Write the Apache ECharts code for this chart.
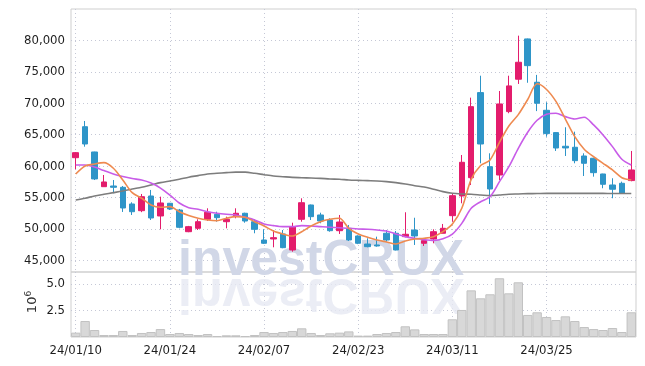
<!DOCTYPE html>
<html><head><meta charset="utf-8">
<script src="https://cdn.jsdelivr.net/npm/echarts@6/dist/echarts.min.js"></script>
<style>html,body{margin:0;padding:0;background:#fff}#c{width:645px;height:366px}</style>
</head><body><div id="c"></div>
<script>
const dates = ['24/01/10','24/01/11','24/01/12','24/01/15','24/01/16','24/01/17','24/01/18','24/01/19','24/01/22','24/01/23',
'24/01/24','24/01/25','24/01/26','24/01/29','24/01/30','24/01/31','24/02/01','24/02/02','24/02/05','24/02/06',
'24/02/07','24/02/08','24/02/13','24/02/14','24/02/15','24/02/16','24/02/19','24/02/20','24/02/21','24/02/22',
'24/02/23','24/02/26','24/02/27','24/02/28','24/02/29','24/03/04','24/03/05','24/03/06','24/03/07','24/03/08',
'24/03/11','24/03/12','24/03/13','24/03/14','24/03/15','24/03/18','24/03/19','24/03/20','24/03/21','24/03/22',
'24/03/25','24/03/26','24/03/27','24/03/28','24/03/29','24/04/01','24/04/02','24/04/03','24/04/04','24/04/05'];

const opens  = [61350,66280,62260,56740,56850,56640,53990,52920,55260,52080,
54100,53030,49580,50120,51550,52350,51170,52080,52510,51170,
48260,48420,49220,46670,51550,53830,52240,51440,49740,50120,
48900,47620,47470,49330,49330,48790,49850,47740,48420,49330,
52130,55260,58170,71700,59920,58600,68680,73830,80240,73350,
68890,65340,63170,63010,61620,61260,58760,57010,57280,57710];
const closes = [62150,63530,57970,57490,56640,53350,52760,55150,51760,54150,
53190,50280,50380,51170,52670,51810,51550,52510,51280,49960,
47740,48630,47040,50380,54190,51970,51280,49740,51120,48260,
47740,47200,47310,48260,46670,49170,48900,48150,49580,50120,
55310,60620,69470,63530,56370,69900,72770,76530,75990,70010,
65180,62890,62900,60880,60460,58970,57120,56330,55690,59400];
const lows   = [59510,63100,57800,56740,55690,52720,52240,52690,51440,49960,
53030,50120,49500,49850,51280,51170,50120,51710,51010,49330,
47620,47100,46950,46400,51170,51440,50920,49580,49220,48100,
47600,47100,47200,48000,46600,48690,47470,47310,47740,49330,
51170,54100,57000,60460,53990,57800,68420,73080,73270,68760,
64690,62420,61620,60460,58440,58330,56490,54900,55600,57600];
const highs  = [62250,67190,62300,58600,57800,56850,54260,55580,56220,55150,
54150,53200,50500,51550,53300,52760,51970,53300,52600,51550,
49960,49850,49850,51010,54890,53900,52600,51710,52240,50650,
49000,48530,48790,49850,49690,52670,51800,48530,49960,50810,
55690,61780,70900,74390,62050,71960,74390,80760,80300,74520,
70170,65400,66190,65490,62050,61300,58800,58080,57540,62420];

const volumes = [0.41,1.51,0.66,0.19,0.19,0.57,0.19,0.38,0.47,0.75,
0.28,0.38,0.28,0.19,0.28,0.09,0.16,0.16,0.09,0.19,
0.47,0.38,0.47,0.57,0.82,0.38,0.19,0.35,0.41,0.53,
0.13,0.13,0.28,0.38,0.47,1.01,0.72,0.28,0.28,0.28,
1.67,2.55,4.40,3.65,4.03,5.54,4.12,5.16,2.08,2.33,
1.89,1.60,1.95,1.51,0.94,0.75,0.66,0.85,0.47,2.33];

const ma5 = [58760,60030,60350,60560,59670,57810,55790,54900,53830,53460,
53560,52760,52160,51710,51440,51330,51710,51970,51870,51170,
50490,49690,49220,48900,49580,50490,51170,51550,51710,50120,
49220,48690,48260,47940,47620,48100,48420,48530,48790,49580,
50800,53300,57900,60100,61000,63800,66400,68200,70600,73100,
72200,70300,67500,64700,62700,61500,60460,59400,58170,57810];
const ma10 = [60190,60190,59860,59300,58750,58350,58030,57790,57310,56520,
55410,54140,53400,53140,52760,52510,52350,52240,51870,51440,
50810,50540,50380,50380,50550,50490,50380,50280,50220,50120,
50010,49960,49850,49690,49220,48790,48530,48320,48200,48450,
49200,50900,53300,54350,55150,57540,59920,62840,65400,67300,
68250,68420,67880,67510,67780,66560,64970,63110,61100,60190];
const ma60 = [54620,54900,55260,55530,55790,56060,56370,56640,57010,57380,
57650,57920,58250,58500,58760,58870,58970,59050,59050,58870,
58650,58440,58330,58220,58170,58120,58060,57970,57920,57810,
57750,57700,57650,57540,57380,57170,56900,56700,56330,55950,
55690,55580,55530,55420,55310,55420,55530,55580,55630,55650,
55670,55670,55680,55680,55680,55670,55670,55660,55650,55650];

const priceTicks = [45000,50000,55000,60000,65000,70000,75000,80000];
const volTicks = [2.5,5.0];

const FONT = '"DejaVu Sans Condensed", "DejaVu Sans", sans-serif';
const gridLine = {show:true, lineStyle:{color:'#c5c8d6', type:[1,3], width:1}};
const candles = opens.map((o,i)=>[o, closes[i], lows[i], highs[i]]);
const lbl = {fontFamily:FONT, fontSize:13, color:'#1e1e1e'};

const chart = echarts.init(document.getElementById('c'), null, {renderer:'canvas'});
chart.setOption({
  animation:false,
  backgroundColor:'#fff',
  grid:[
    {left:71, right:9, top:9, height:263, show:true, borderColor:'#cfcfcf', borderWidth:1, backgroundColor:'transparent'},
    {left:71, right:9, top:272, height:65, show:true, borderColor:'#cfcfcf', borderWidth:1, backgroundColor:'transparent'}
  ],
  xAxis:[
    {type:'category', gridIndex:0, data:dates, boundaryGap:true,
     axisLine:{show:false}, axisTick:{show:false, interval:9, alignWithLabel:true},
     axisLabel:{show:false, interval:9},
     splitLine:Object.assign({interval:9, alignWithLabel:true}, gridLine)},
    {type:'category', gridIndex:1, data:dates, boundaryGap:true,
     axisLine:{show:false}, axisTick:{show:false, interval:9, alignWithLabel:true},
     axisLabel:Object.assign({show:true, interval:9, margin:7}, lbl),
     splitLine:Object.assign({interval:9, alignWithLabel:true}, gridLine)}
  ],
  yAxis:[
    {type:'value', gridIndex:0, min:43170, max:85000, position:'left',
     axisLine:{show:false}, axisTick:{show:false, customValues:priceTicks},
     axisLabel:Object.assign({customValues:priceTicks, margin:6,
       formatter:v=>v.toLocaleString('en-US')}, lbl),
     splitLine:gridLine},
    {type:'value', gridIndex:1, min:0, max:6.13, position:'left',
     axisLine:{show:false}, axisTick:{show:false, customValues:volTicks},
     axisLabel:Object.assign({customValues:volTicks, margin:6,
       formatter:v=>v.toFixed(1)}, lbl),
     splitLine:gridLine}
  ],
  graphic:[
    {type:'text', x:178, y:276, z:1, silent:true,
     style:{text:'investCRUX', font:'bold 50px "Liberation Sans"', fill:'#d1d7e7', verticalAlign:'bottom', lineHeight:30}},
    {type:'text', x:178, y:278, z:1, scaleY:-1, silent:true,
     style:{text:'investCRUX', font:'bold 50px "Liberation Sans"', fill:'#e6e9f2', opacity:0.8, verticalAlign:'bottom', lineHeight:30}},
    {type:'text', x:33, y:302, rotation:Math.PI/2, z:5, silent:true,
     style:{text:'10{sup|6}', fontFamily:'"DejaVu Sans", sans-serif', fontSize:13, fill:'#333',
       align:'center', verticalAlign:'middle',
       rich:{sup:{fontFamily:'"DejaVu Sans", sans-serif', fontSize:9, fill:'#333', padding:[0,0,8,0]}}}}
  ],
  series:[
    {type:'candlestick', xAxisIndex:0, yAxisIndex:0, data:candles, barWidth:'64%', z:3,
     itemStyle:{color:'#e31c6c', color0:'#2e95c8', borderColor:'#e31c6c', borderColor0:'#2e95c8', borderWidth:1}},
    {type:'line', xAxisIndex:0, yAxisIndex:0, data:ma60, symbol:'none', smooth:0.3, z:4,
     lineStyle:{color:'#7d7d7d', width:1.6}},
    {type:'line', xAxisIndex:0, yAxisIndex:0, data:ma10, symbol:'none', smooth:0.3, z:4,
     lineStyle:{color:'#c85ce8', width:1.6}},
    {type:'line', xAxisIndex:0, yAxisIndex:0, data:ma5, symbol:'none', smooth:0.3, z:4,
     lineStyle:{color:'#ee8a50', width:1.6}},
    {type:'bar', xAxisIndex:1, yAxisIndex:1, data:volumes, barWidth:'100%', z:3,
     itemStyle:{color:'#d8d8d8', borderColor:'#c2c2c2', borderWidth:1}}
  ]
});
</script></body></html>
